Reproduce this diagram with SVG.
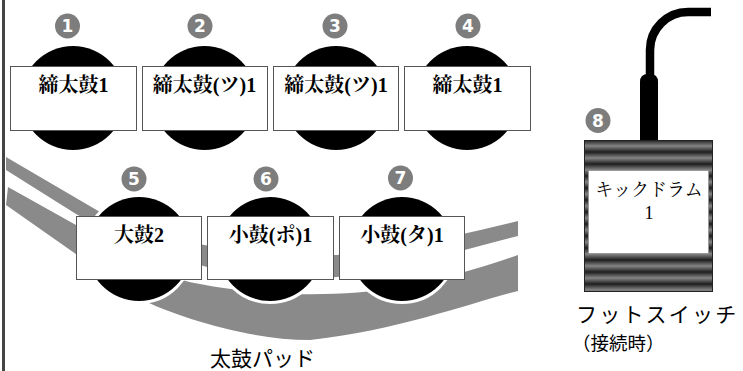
<svg xmlns="http://www.w3.org/2000/svg" width="743" height="371" viewBox="0 0 743 371">
  <defs>
    <style>
      .pad{fill:#000;stroke:#fff;stroke-width:6;paint-order:stroke}
      .box{fill:#fff;stroke:#555;stroke-width:1}
      .lbl{font-family:"Liberation Serif","Noto Serif CJK JP","Noto Sans CJK JP",serif;font-weight:bold;font-size:20px;text-anchor:middle;fill:#000}
      .num circle{fill:#7d7d7d}
      .num text{font-family:"DejaVu Sans","Liberation Sans",sans-serif;font-weight:bold;font-size:17px;fill:#fff;text-anchor:middle}
      .rim{fill:#8a8a8a}
      .cap{font-family:"Noto Sans CJK JP",sans-serif;fill:#000}
      .kick{font-family:"Liberation Serif","Noto Serif CJK JP","Noto Sans CJK JP",serif;font-size:18px;text-anchor:middle;fill:#000}
    </style>
    <!-- horizontal ribbing of the foot switch body -->
    <linearGradient id="ribs" gradientUnits="userSpaceOnUse" x1="0" y1="140" x2="0" y2="152" spreadMethod="repeat">
      <stop offset="0" stop-color="#1e1e1e"/>
      <stop offset="0.5" stop-color="#858585"/>
      <stop offset="1" stop-color="#1e1e1e"/>
    </linearGradient>
  </defs>

  <rect width="743" height="371" fill="#fff"/>
  <rect x="2" y="0" width="3" height="371" fill="#444"/>

  <!-- rim of the drum pad -->
  <g id="connectors">
    <path class="rim" d="M6,157 L100,212 C160,240 230,252 290,256 C360,258 430,242 518,221 L518,236 C440,256 370,279 300,279 C220,279 140,250 76,214 L6,170 Z"/>
    <path class="rim" d="M8,187 L76,225 C130,256 160,278 200,284 C260,296 340,298 400,287 C440,280 480,268 518,255 L518,291 C470,303 400,330 310,340 C250,340 180,318 140,299 L6,205 Z"/>
  </g>

  <!-- top row -->
  <g id="pad-1">
    <circle class="pad" cx="73" cy="98" r="52"/>
    <rect class="box" x="10.5" y="66.5" width="126" height="64"/>
    <text class="lbl" x="73.5" y="92">締太鼓1</text>
    <g class="num"><circle cx="67.5" cy="26" r="12.5"/><text x="67.5" y="32">1</text></g>
  </g>
  <g id="pad-2">
    <circle class="pad" cx="204.5" cy="98" r="52"/>
    <rect class="box" x="142.5" y="66.5" width="125" height="64"/>
    <text class="lbl" x="204.5" y="92">締太鼓(ツ)1</text>
    <g class="num"><circle cx="200" cy="26" r="12.5"/><text x="200" y="32">2</text></g>
  </g>
  <g id="pad-3">
    <circle class="pad" cx="336" cy="98" r="52"/>
    <rect class="box" x="273.5" y="66.5" width="125" height="64"/>
    <text class="lbl" x="336" y="92">締太鼓(ツ)1</text>
    <g class="num"><circle cx="335" cy="26" r="12.5"/><text x="335" y="32">3</text></g>
  </g>
  <g id="pad-4">
    <circle class="pad" cx="467" cy="98" r="52"/>
    <rect class="box" x="404.5" y="66.5" width="126" height="64"/>
    <text class="lbl" x="467.5" y="92">締太鼓1</text>
    <g class="num"><circle cx="468" cy="26" r="12.5"/><text x="468" y="32">4</text></g>
  </g>

  <!-- bottom row -->
  <g id="pad-5">
    <circle class="pad" cx="139" cy="249" r="52"/>
    <rect class="box" x="76.5" y="216.5" width="125" height="63"/>
    <text class="lbl" x="139" y="242">大鼓2</text>
    <g class="num"><circle cx="134" cy="179" r="12.5"/><text x="134" y="185">5</text></g>
  </g>
  <g id="pad-6">
    <circle class="pad" cx="270" cy="249" r="52"/>
    <rect class="box" x="207.5" y="216.5" width="126" height="63"/>
    <text class="lbl" x="270.5" y="242">小鼓(ポ)1</text>
    <g class="num"><circle cx="266" cy="179" r="12.5"/><text x="266" y="185">6</text></g>
  </g>
  <g id="pad-7">
    <circle class="pad" cx="402" cy="249" r="52"/>
    <rect class="box" x="339.5" y="216.5" width="125" height="63"/>
    <text class="lbl" x="402" y="242">小鼓(タ)1</text>
    <g class="num"><circle cx="400.5" cy="178" r="12.5"/><text x="400.5" y="184">7</text></g>
  </g>

  <text class="cap" x="210" y="366" font-size="21">太鼓パッド</text>

  <!-- foot switch -->
  <g id="foot-switch">
    <path d="M711,12 L688,12 A38,38 0 0 0 650,50 L650,80" fill="none" stroke="#000" stroke-width="8.5"/>
    <path d="M640,141 L640,82 Q640,74 648,74 L650,74 Q658,74 658,82 L658,141 Z" fill="#000"/>
    <rect x="584.5" y="140.5" width="128" height="151" fill="url(#ribs)" stroke="#222" stroke-width="1"/>
    <rect x="588.5" y="170.5" width="120" height="83" fill="#fff" stroke="#999" stroke-width="1"/>
    <text class="kick" x="649" y="196">キックドラム</text>
    <text class="kick" x="649" y="219">1</text>
    <g class="num"><circle cx="598" cy="120.5" r="12.5"/><text x="598" y="126.5">8</text></g>
  </g>
  <text class="cap" x="576" y="322" font-size="21" letter-spacing="2.2">フットスイッチ</text>
  <text class="cap" x="572" y="350" font-size="18.5">（接続時）</text>
</svg>
